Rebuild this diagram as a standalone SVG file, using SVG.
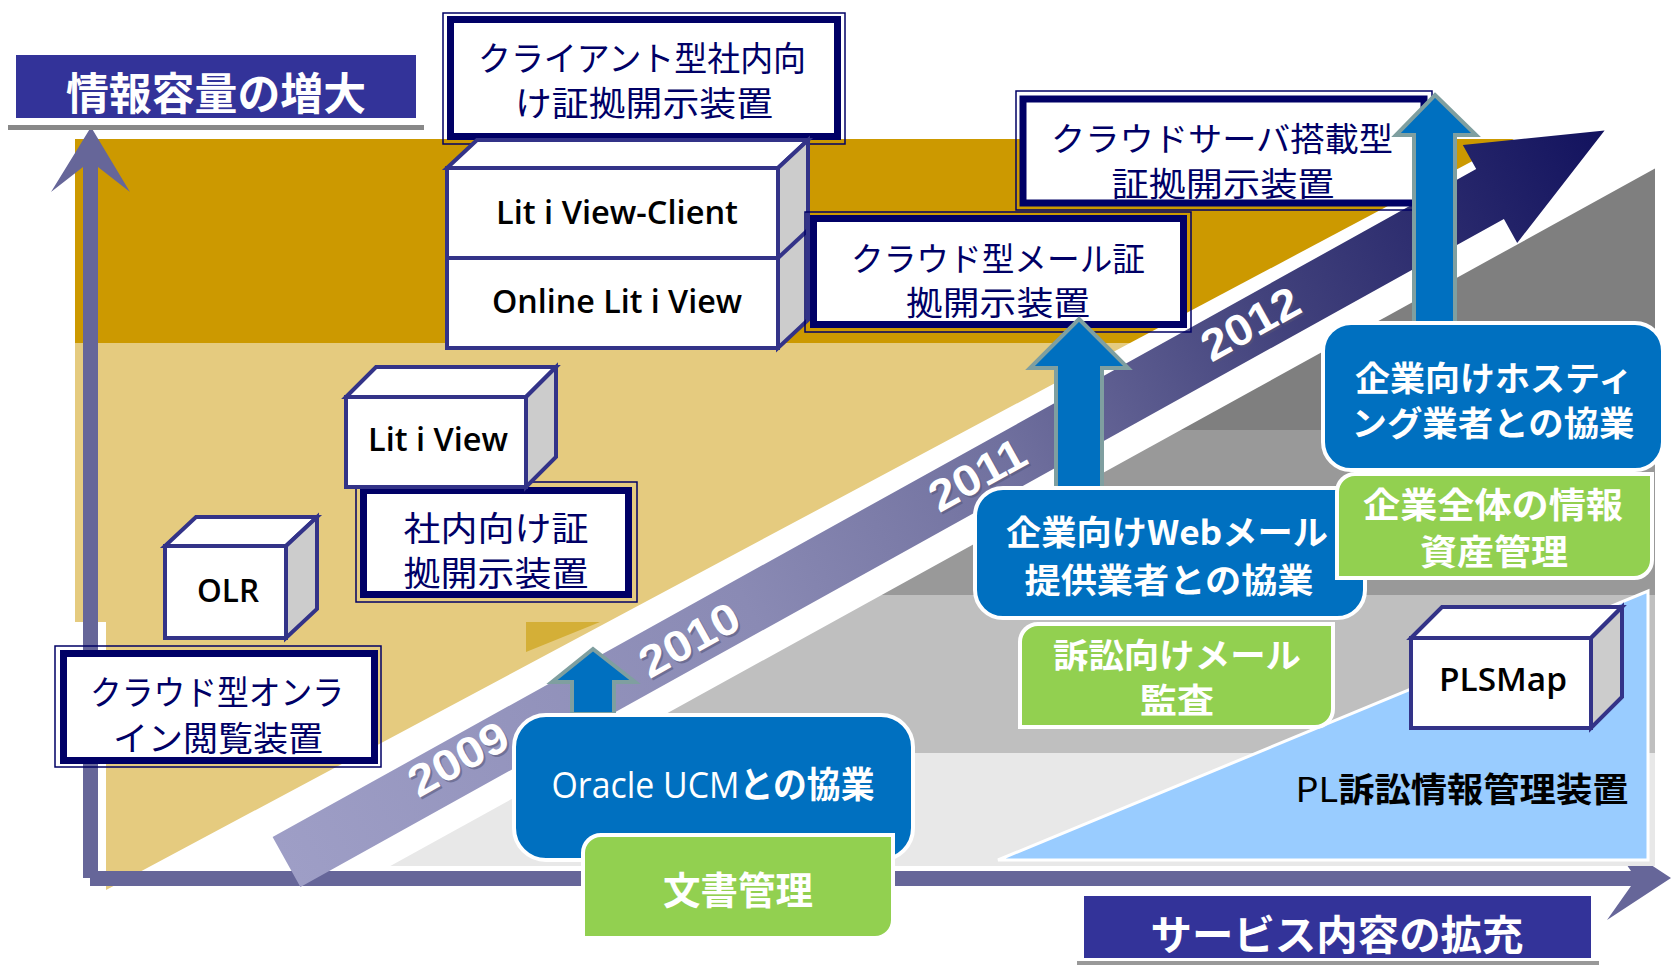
<svg xmlns="http://www.w3.org/2000/svg" width="1671" height="968" viewBox="0 0 1671 968">
<defs>
<linearGradient id="band" gradientUnits="userSpaceOnUse" x1="286" y1="862" x2="1605" y2="130">
<stop offset="0" stop-color="#9E9EC6"/>
<stop offset="0.35" stop-color="#8A8AB4"/>
<stop offset="0.55" stop-color="#70709E"/>
<stop offset="0.75" stop-color="#42427C"/>
<stop offset="1" stop-color="#12125E"/>
</linearGradient>
<style>
.nv{font-family:"Noto Sans CJK JP",sans-serif;fill:#000066;text-anchor:middle}
.wt{font-family:"Noto Sans CJK JP",sans-serif;fill:#fff;font-weight:700;text-anchor:middle}
.lat{font-family:"Open Sans","Liberation Sans",sans-serif;font-weight:600;fill:#000;text-anchor:middle}
.cube{stroke:#333388;stroke-width:4;stroke-linejoin:miter}
.blue{fill:#0070C0;stroke:#fff;stroke-width:4}
.green{fill:#92D050;stroke:#fff;stroke-width:4}
.up{fill:#0070C0;stroke:#7F9FA0;stroke-width:4;stroke-linejoin:miter}
.thin{fill:none;stroke:#000066;stroke-width:1.5}
.thick{fill:#fff;stroke:#000066;stroke-width:7}
.yr{font-family:"Liberation Sans",Arial,sans-serif;font-weight:700;font-size:44px;text-anchor:middle}
</style>
</defs>
<rect width="1671" height="968" fill="#fff"/>

<g id="background">
<polygon points="75,139 1514,139 1130,343 75,343" fill="#CC9900"/>
<polygon points="75,343 1130,343 106,890 106,622 75,622" fill="#E5CB7F"/>
<polygon points="526,622 600,622 526,652" fill="#D4AF37"/>
<rect x="83" y="167" width="15" height="711" fill="#666699"/>
<polygon points="91,127 130,192 98,167 83,167 51,192" fill="#666699"/>
<polygon points="90,871 1631,871 1607,836 1671,878 1607,920 1631,886 90,886" fill="#666699"/>
<polygon points="1655,168.5 1655,430 1180.8,430" fill="#7F7F7F"/>
<polygon points="1180.8,430 1655,430 1655,595 881.6,595" fill="#999999"/>
<polygon points="881.6,595 1655,595 1655,753 595.1,753" fill="#BFBFBF"/>
<polygon points="595.1,753 1655,753 1655,866 390.3,866" fill="#E8E8E8"/>
<polygon id="pl-area" points="998,860 1648,591 1648,860" fill="#99CCFF" stroke="#fff" stroke-width="3"/>
<polygon points="272.6,837.1 1476.2,169.1 1462.8,145.1 1604.6,130.4 1517.2,242.9 1503.9,218.9 300.4,886.9" fill="url(#band)"/>
<g class="yr">
<text transform="translate(460,760) rotate(-29.03)" y="16" fill="#555577" opacity="0.55" textLength="108" lengthAdjust="spacingAndGlyphs">2009</text>
<text transform="translate(458,758) rotate(-29.03)" y="16" fill="#fff" textLength="108" lengthAdjust="spacingAndGlyphs">2009</text>
<text transform="translate(691,641) rotate(-29.03)" y="16" fill="#555577" opacity="0.55" textLength="108" lengthAdjust="spacingAndGlyphs">2010</text>
<text transform="translate(689,639) rotate(-29.03)" y="16" fill="#fff" textLength="108" lengthAdjust="spacingAndGlyphs">2010</text>
<text transform="translate(979,476) rotate(-29.03)" y="16" fill="#555577" opacity="0.55" textLength="104" lengthAdjust="spacingAndGlyphs">2011</text>
<text transform="translate(977,474) rotate(-29.03)" y="16" fill="#fff" textLength="104" lengthAdjust="spacingAndGlyphs">2011</text>
<text transform="translate(1252,325) rotate(-29.03)" y="16" fill="#555577" opacity="0.55" textLength="106" lengthAdjust="spacingAndGlyphs">2012</text>
<text transform="translate(1250,323) rotate(-29.03)" y="16" fill="#fff" textLength="106" lengthAdjust="spacingAndGlyphs">2012</text>
</g>
</g>

<g id="axis-y-label">
<rect x="8" y="50" width="416" height="76" fill="#fff"/>
<rect x="8" y="125" width="416" height="5" fill="#888888"/>
<rect x="16" y="55" width="400" height="63" fill="#333399"/>
<text class="wt" x="216" y="110" font-size="44" textLength="300" lengthAdjust="spacingAndGlyphs">情報容量の増大</text>
</g>

<g id="client-box">
<rect class="thin" x="443" y="13" width="402" height="131"/>
<rect class="thick" x="450.5" y="19.5" width="387" height="117"/>
<text class="nv" x="642" y="71" font-size="34" textLength="328" lengthAdjust="spacingAndGlyphs">クライアント型社内向</text>
<text class="nv" x="644" y="116" font-size="34" textLength="258" lengthAdjust="spacingAndGlyphs">け証拠開示装置</text>
</g>

<g id="litiview-client-stack">
<polygon class="cube" points="447,168 477,140 808,140 778,168" fill="#fff"/>
<polygon class="cube" points="778,168 808,140 808,320 778,348" fill="#CCCCCC"/>
<rect class="cube" x="447" y="168" width="331" height="180" fill="#fff"/>
<line class="cube" x1="447" y1="258" x2="778" y2="258"/>
<line class="cube" x1="778" y1="258" x2="808" y2="230"/>
<text class="lat" x="617" y="224" font-size="33" textLength="242" lengthAdjust="spacingAndGlyphs">Lit i View-Client</text>
<text class="lat" x="617" y="313" font-size="33" textLength="250" lengthAdjust="spacingAndGlyphs">Online Lit i View</text>
</g>

<g id="inhouse-box">
<rect class="thin" x="356" y="482" width="281" height="120"/>
<rect class="thick" x="363.5" y="490.5" width="265" height="104"/>
<text class="nv" x="496" y="541" font-size="34" textLength="185" lengthAdjust="spacingAndGlyphs">社内向け証</text>
<text class="nv" x="496" y="586" font-size="34" textLength="185" lengthAdjust="spacingAndGlyphs">拠開示装置</text>
</g>

<g id="litiview-cube">
<polygon class="cube" points="346,397 376,367 556,367 526,397" fill="#fff"/>
<polygon class="cube" points="526,397 556,367 556,457 526,487" fill="#CCCCCC"/>
<rect class="cube" x="346" y="397" width="180" height="90" fill="#fff"/>
<text class="lat" x="438" y="451" font-size="33" textLength="140" lengthAdjust="spacingAndGlyphs">Lit i View</text>
</g>

<g id="olr-cube">
<polygon class="cube" points="165,546 196,517 317,517 286,546" fill="#fff"/>
<polygon class="cube" points="286,546 317,517 317,609 286,638" fill="#CCCCCC"/>
<rect class="cube" x="165" y="546" width="121" height="92" fill="#fff"/>
<text class="lat" x="228" y="602" font-size="33" textLength="62" lengthAdjust="spacingAndGlyphs">OLR</text>
</g>

<g id="online-viewer-box">
<rect class="thin" x="55" y="646" width="326" height="121"/>
<rect class="thick" x="63.5" y="653.5" width="311" height="107"/>
<text class="nv" x="217" y="705" font-size="34" textLength="254" lengthAdjust="spacingAndGlyphs">クラウド型オンラ</text>
<text class="nv" x="218" y="751" font-size="34" textLength="210" lengthAdjust="spacingAndGlyphs">イン閲覧装置</text>
</g>

<g id="cloud-mail-box">
<rect class="thin" x="805" y="212" width="386" height="120"/>
<rect class="thick" x="813.5" y="218.5" width="370" height="106"/>
<text class="nv" x="998" y="271" font-size="33" textLength="294" lengthAdjust="spacingAndGlyphs">クラウド型メール証</text>
<text class="nv" x="998" y="315" font-size="33" textLength="184" lengthAdjust="spacingAndGlyphs">拠開示装置</text>
</g>

<g id="cloud-server-box">
<rect class="thin" x="1016" y="91" width="416" height="119"/>
<rect class="thick" x="1023" y="99" width="401" height="104" stroke-width="8"/>
<text class="nv" x="1222" y="151" font-size="33" textLength="342" lengthAdjust="spacingAndGlyphs">クラウドサーバ搭載型</text>
<text class="nv" x="1223" y="196" font-size="33" textLength="223" lengthAdjust="spacingAndGlyphs">証拠開示装置</text>
</g>

<g id="connectors">
<polygon class="up" points="593,649 635,682 614,682 614,714 572,714 572,682 552,682"/>
<polygon class="up" points="1079,319 1128,368 1102,368 1102,488 1056,488 1056,368 1030,368"/>
<polygon class="up" points="1435,95 1476,135 1455,135 1455,323 1414,323 1414,135 1396,135"/>
</g>

<g id="oracle-box">
<rect class="blue" x="514" y="715" width="399" height="145" rx="32"/>
<text class="wt" x="713" y="798" font-size="36" textLength="323" lengthAdjust="spacingAndGlyphs"><tspan font-family="Open Sans, Liberation Sans, sans-serif" font-weight="400">Oracle UCM</tspan>との協業</text>
</g>

<g id="document-box">
<path class="green" d="M583,853 A18,18 0 0 1 601,835 H893 V920 A18,18 0 0 1 875,938 H583 Z"/>
<text class="wt" x="738" y="904" font-size="38" textLength="150" lengthAdjust="spacingAndGlyphs">文書管理</text>
</g>

<g id="webmail-box">
<rect class="blue" x="975" y="488" width="390" height="130" rx="28"/>
<text class="wt" x="1167" y="545" font-size="34" textLength="322" lengthAdjust="spacingAndGlyphs">企業向けWebメール</text>
<text class="wt" x="1169" y="593" font-size="34" textLength="289" lengthAdjust="spacingAndGlyphs">提供業者との協業</text>
</g>

<g id="mail-audit-box">
<path class="green" d="M1020,642 A18,18 0 0 1 1038,624 H1333 V709 A18,18 0 0 1 1315,727 H1020 Z"/>
<text class="wt" x="1177" y="668" font-size="34" textLength="248" lengthAdjust="spacingAndGlyphs">訴訟向けメール</text>
<text class="wt" x="1177" y="713" font-size="34" textLength="74" lengthAdjust="spacingAndGlyphs">監査</text>
</g>

<g id="hosting-box">
<rect class="blue" x="1323" y="323" width="340" height="147" rx="28"/>
<text class="wt" x="1494" y="391" font-size="34" textLength="278" lengthAdjust="spacingAndGlyphs">企業向けホスティ</text>
<text class="wt" x="1493" y="436" font-size="34" textLength="283" lengthAdjust="spacingAndGlyphs">ング業者との協業</text>
</g>

<g id="asset-box">
<path class="green" d="M1337,492 A18,18 0 0 1 1355,474 H1652 V560 A18,18 0 0 1 1634,578 H1337 Z"/>
<text class="wt" x="1493" y="518" font-size="35" textLength="260" lengthAdjust="spacingAndGlyphs">企業全体の情報</text>
<text class="wt" x="1494" y="565" font-size="35" textLength="148" lengthAdjust="spacingAndGlyphs">資産管理</text>
</g>

<g id="plsmap-cube">
<polygon class="cube" points="1411,638 1442,607 1622,607 1591,638" fill="#fff"/>
<polygon class="cube" points="1591,638 1622,607 1622,697 1591,728" fill="#CCCCCC"/>
<rect class="cube" x="1411" y="638" width="180" height="90" fill="#fff"/>
<text class="lat" x="1503" y="691" font-size="33" textLength="128" lengthAdjust="spacingAndGlyphs">PLSMap</text>
</g>

<g id="pl-label">
<text x="1462" y="802" font-size="34" font-weight="700" fill="#000" text-anchor="middle" font-family="Noto Sans CJK JP, sans-serif" textLength="333" lengthAdjust="spacingAndGlyphs"><tspan font-weight="400">PL</tspan>訴訟情報管理装置</text>
</g>

<g id="axis-x-label">
<rect x="1077" y="888" width="522" height="74" fill="#fff"/>
<rect x="1077" y="961" width="522" height="4" fill="#999999"/>
<rect x="1084" y="896" width="507" height="62" fill="#333399"/>
<text class="wt" x="1337" y="950" font-size="41" textLength="373" lengthAdjust="spacingAndGlyphs">サービス内容の拡充</text>
</g>
</svg>
